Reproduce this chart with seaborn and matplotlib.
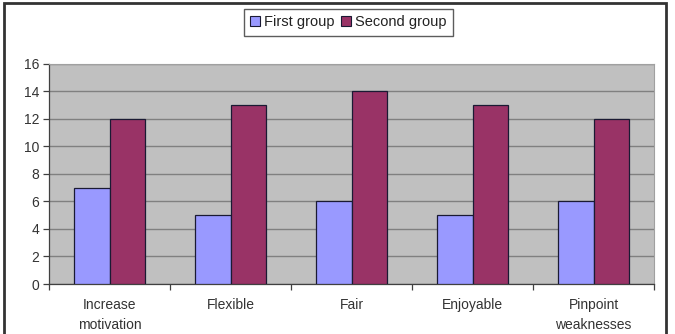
import matplotlib
matplotlib.use("Agg")
import matplotlib.pyplot as plt
import matplotlib.patches as mpatches
import pandas as pd
import seaborn as sns

# data
categories = ["Increase\nmotivation", "Flexible", "Fair", "Enjoyable", "Pinpoint\nweaknesses"]
first_group = [7, 5, 6, 5, 6]
second_group = [12, 13, 14, 13, 12]
series_names = ["First group", "Second group"]
y_ticks = [0, 2, 4, 6, 8, 10, 12, 14, 16]

df = pd.DataFrame({
    "category": categories * 2,
    "value": first_group + second_group,
    "group": [series_names[0]] * len(categories) + [series_names[1]] * len(categories),
})

sns.set_style("white")
plt.rcParams["font.family"] = ["Liberation Sans", "DejaVu Sans"]

fig = plt.figure(figsize=(6.75, 3.34), dpi=100)
ax = fig.add_axes([0.0726, 0.1497, 0.8964, 0.6587])

sns.barplot(data=df, x="category", y="value", hue="group", order=categories,
            palette=["#9999FF", "#993366"], width=0.58, gap=0,
            edgecolor="#1a1a33", linewidth=0.9, saturation=1, ax=ax, legend=False,
            zorder=3)

ax.set_facecolor("#C0C0C0")
ax.set_xlim(-0.5, len(categories) - 0.5)
ax.set_ylim(0, 16)
ax.set_yticks(y_ticks)
ax.yaxis.grid(True, color="#808080", linewidth=1.0, zorder=0)
ax.set_axisbelow(True)
ax.set_xlabel("")
ax.set_ylabel("")

for side in ["top", "right"]:
    ax.spines[side].set_color("#a0a0a0")
    ax.spines[side].set_linewidth(0.8)
for side in ["left", "bottom"]:
    ax.spines[side].set_color("#404040")
    ax.spines[side].set_linewidth(0.9)

ax.tick_params(axis="y", direction="out", length=4, width=0.9, color="#404040",
               labelsize=10, labelcolor="#333333", left=True, pad=3)
ax.tick_params(axis="x", which="major", length=0, labelsize=10, labelcolor="#333333", pad=10)
for lbl in ax.get_xticklabels():
    lbl.set_linespacing(1.55)
ax.set_xticks([i - 0.5 for i in range(len(categories) + 1)], minor=True)
ax.tick_params(axis="x", which="minor", direction="out", length=4, width=0.9,
               color="#404040", bottom=True)

handles = [mpatches.Patch(facecolor=c, edgecolor="#1a1a33", linewidth=0.8)
           for c in ["#9999FF", "#993366"]]
fig.legend(handles, series_names, loc="center", bbox_to_anchor=(0.516, 0.933),
           ncol=2, fontsize=10.5, frameon=True, fancybox=False, edgecolor="#333333",
           handlelength=0.65, handleheight=0.65, handletextpad=0.3, columnspacing=0.45,
           borderpad=0.45, borderaxespad=0, labelcolor="#222222")
fig.legends[0].get_frame().set_linewidth(1.0)

# outer chart frame
fig.patches.append(mpatches.Rectangle((0.006, -0.05), 0.981, 1.04, transform=fig.transFigure,
                                      fill=False, edgecolor="#333333", linewidth=2))

fig.savefig("out.png", dpi=100)
